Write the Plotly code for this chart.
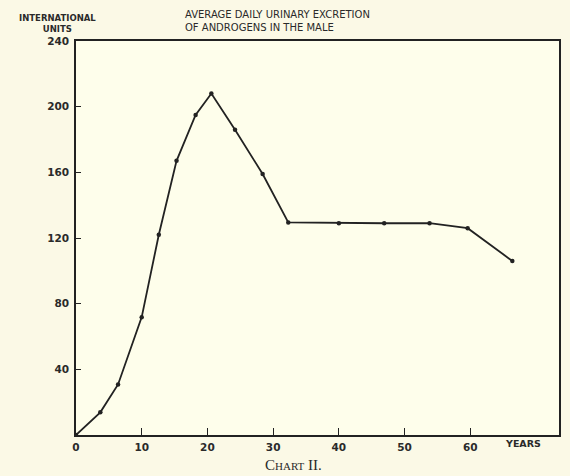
import plotly.graph_objects as go

years = [0, 3.7, 6.4, 10.0, 12.6, 15.3, 18.2, 20.6, 24.2, 28.4, 32.3, 40.0, 46.9, 53.8, 59.6, 66.4]
units = [0, 13.8, 30.8, 71.8, 122, 167, 195, 208, 186, 159, 129.5, 129, 129, 129, 126, 106]

x_ticks = [0, 10, 20, 30, 40, 50, 60]
y_ticks = [40, 80, 120, 160, 200, 240]

ink = "#222222"
txt = "#2a2a2a"
font_sans = "DejaVu Sans"

fig = go.Figure()
fig.add_trace(go.Scatter(
    x=years, y=units, mode="lines+markers",
    line=dict(color=ink, width=1.8),
    marker=dict(color=ink, size=4.5),
    showlegend=False, hoverinfo="skip",
))

tick_font = dict(family=font_sans, size=10.5, color=txt, weight="bold")

fig.update_layout(
    width=570, height=476,
    margin=dict(l=76, r=9, t=41, b=41),
    paper_bgcolor="#FBF9E6",
    plot_bgcolor="#FEFEEB",
    font=dict(family=font_sans, color=txt, size=10),
    xaxis=dict(
        range=[0, 73.5], tickvals=x_ticks, ticktext=[str(v) for v in x_ticks],
        showgrid=False, zeroline=False, showline=True, mirror=True,
        linecolor=ink, linewidth=1.6, ticks="inside", ticklen=7,
        tickcolor=ink, tickwidth=1.3, ticklabelstandoff=2,
        tickfont=tick_font,
    ),
    yaxis=dict(
        range=[0, 240], tickvals=y_ticks, ticktext=[str(v) for v in y_ticks],
        showgrid=False, zeroline=False, showline=True, mirror=True,
        linecolor=ink, linewidth=1.6, ticks="inside", ticklen=5,
        tickcolor=ink, tickwidth=1.3, ticklabelstandoff=3,
        tickfont=tick_font,
    ),
    annotations=[
        dict(text="INTERNATIONAL<br>UNITS", x=57, y=476 - 11, xref="paper", yref="paper",
             showarrow=False, font=dict(family=font_sans, size=8.5, color=txt, weight="bold"),
             xanchor="center", yanchor="top", align="center"),
        dict(text="AVERAGE DAILY URINARY EXCRETION<br>OF ANDROGENS IN THE MALE",
             x=183, y=476 - 7, xref="paper", yref="paper", showarrow=False,
             font=dict(family=font_sans, size=10, color=txt),
             xanchor="left", yanchor="top", align="left"),
        dict(text="YEARS", x=525, y=476 - 444, xref="paper", yref="paper",
             showarrow=False, font=dict(family=font_sans, size=9.5, color=txt, weight="bold"),
             xanchor="center", yanchor="middle"),
        dict(text="C<span style='font-size:11px'>HART</span> II.", x=294, y=476 - 465,
             xref="paper", yref="paper", showarrow=False,
             font=dict(family="Liberation Serif", size=15, color=txt),
             xanchor="center", yanchor="middle"),
    ],
)

# convert pixel-based annotation positions to paper coordinates
pw = 570 - 76 - 9
ph = 476 - 41 - 41
for a in fig.layout.annotations:
    a.x = (a.x - 76) / pw
    a.y = (a.y - 41) / ph

fig.write_html("out.html", config={"displayModeBar": False},
               post_script="document.body.style.margin='0';")
